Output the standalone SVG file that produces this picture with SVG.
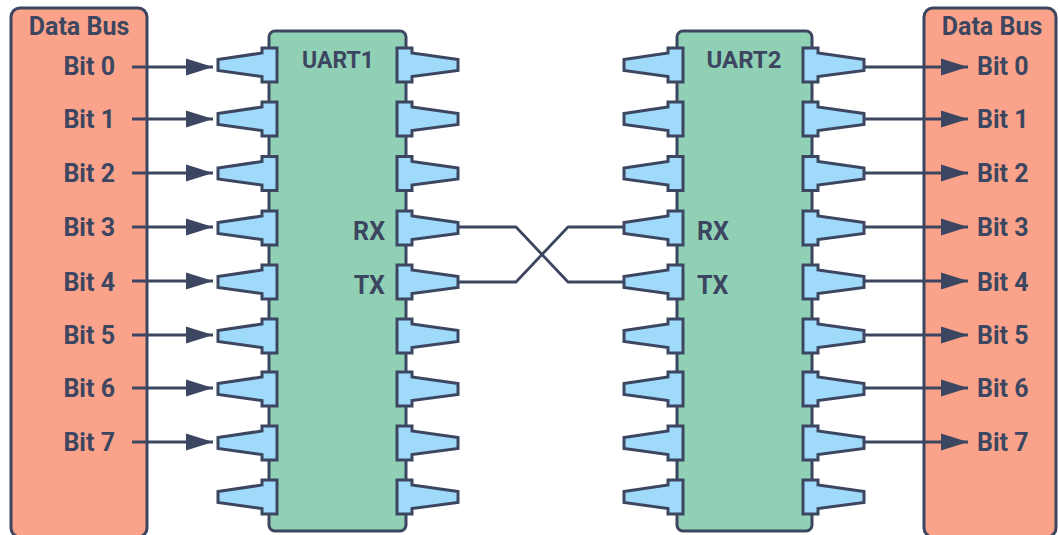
<svg xmlns="http://www.w3.org/2000/svg" width="1058" height="535" viewBox="0 0 1058 535">
<style>
.bus{fill:#fba38a;stroke:#3d4660;stroke-width:3}
.chip{fill:#90d1b5;stroke:#3d4660;stroke-width:3}
.pin{fill:#a0dafa;stroke:#3d4660;stroke-width:3;stroke-linejoin:miter}
.w{fill:none;stroke:#3d4660;stroke-width:2.8;stroke-linejoin:round}
text{font-family:Roboto,"Liberation Sans",sans-serif;font-weight:700;font-size:25px;fill:#3d4660}
.e{text-anchor:end}.s{text-anchor:start}.m{text-anchor:middle}
</style>
<defs>
<marker id="a" markerUnits="userSpaceOnUse" markerWidth="28" markerHeight="18" refX="27" refY="9" orient="auto"><path d="M0 0.5L27 9L0 17.5Z" fill="#3d4660"/></marker>
<path id="pl" class="pin" d="M218 -5.5L262 -12V-17H277V17H262V11.5L218 5.5Z"/>
<path id="pr" class="pin" d="M458 -5.5L412 -12V-17H397V17H412V11.5L458 5.5Z"/>
</defs>
<g id="bus-left"><rect class="bus" x="11" y="8" width="136" height="529" rx="9"/><text class="m" x="79" y="35">Data Bus</text>
<text class="e" x="115" y="75">Bit 0</text><text class="e" x="115" y="128">Bit 1</text><text class="e" x="115" y="182">Bit 2</text><text class="e" x="115" y="236">Bit 3</text><text class="e" x="115" y="291">Bit 4</text><text class="e" x="115" y="344">Bit 5</text><text class="e" x="115" y="397">Bit 6</text><text class="e" x="115" y="451">Bit 7</text></g>
<g id="bus-right"><rect class="bus" x="924" y="8" width="132" height="529" rx="9"/><text class="m" x="992" y="35">Data Bus</text>
<text class="s" x="977" y="75">Bit 0</text><text class="s" x="977" y="128">Bit 1</text><text class="s" x="977" y="182">Bit 2</text><text class="s" x="977" y="236">Bit 3</text><text class="s" x="977" y="291">Bit 4</text><text class="s" x="977" y="344">Bit 5</text><text class="s" x="977" y="397">Bit 6</text><text class="s" x="977" y="451">Bit 7</text></g>
<g id="uart1"><rect class="chip" x="269" y="31" width="137" height="500" rx="6"/>
<use href="#pl" y="65"/><use href="#pl" y="119"/><use href="#pl" y="173.5"/><use href="#pl" y="228"/><use href="#pl" y="282"/><use href="#pl" y="336"/><use href="#pl" y="389"/><use href="#pl" y="443"/><use href="#pl" y="497"/>
<use href="#pr" y="65"/><use href="#pr" y="119"/><use href="#pr" y="173.5"/><use href="#pr" y="228"/><use href="#pr" y="282"/><use href="#pr" y="336"/><use href="#pr" y="389"/><use href="#pr" y="443"/><use href="#pr" y="497"/>
<text class="m" x="338" y="68" style="font-size:23px">UART1</text><text class="e" x="385" y="240">RX</text><text class="e" x="385" y="294">TX</text></g>
<g id="uart2"><rect class="chip" x="677" y="31" width="135" height="500" rx="6"/>
<use href="#pl" x="406" y="65"/><use href="#pl" x="406" y="119"/><use href="#pl" x="406" y="173.5"/><use href="#pl" x="406" y="228"/><use href="#pl" x="406" y="282"/><use href="#pl" x="406" y="336"/><use href="#pl" x="406" y="389"/><use href="#pl" x="406" y="443"/><use href="#pl" x="406" y="497"/>
<use href="#pr" x="406" y="65"/><use href="#pr" x="406" y="119"/><use href="#pr" x="406" y="173.5"/><use href="#pr" x="406" y="228"/><use href="#pr" x="406" y="282"/><use href="#pr" x="406" y="336"/><use href="#pr" x="406" y="389"/><use href="#pr" x="406" y="443"/><use href="#pr" x="406" y="497"/>
<text class="m" x="744" y="68" style="font-size:24px">UART2</text><text class="s" x="697" y="240">RX</text><text class="s" x="697" y="294">TX</text></g>
<g id="connectors">
<path class="w" marker-end="url(#a)" d="M132 67H213"/><path class="w" marker-end="url(#a)" d="M132 119H213"/><path class="w" marker-end="url(#a)" d="M132 173H213"/><path class="w" marker-end="url(#a)" d="M132 227H213"/><path class="w" marker-end="url(#a)" d="M132 281H213"/><path class="w" marker-end="url(#a)" d="M132 335H213"/><path class="w" marker-end="url(#a)" d="M132 388H213"/><path class="w" marker-end="url(#a)" d="M132 442H213"/>
<path class="w" marker-end="url(#a)" d="M863 67H968"/><path class="w" marker-end="url(#a)" d="M863 119H968"/><path class="w" marker-end="url(#a)" d="M863 173H968"/><path class="w" marker-end="url(#a)" d="M863 227H968"/><path class="w" marker-end="url(#a)" d="M863 281H968"/><path class="w" marker-end="url(#a)" d="M863 335H968"/><path class="w" marker-end="url(#a)" d="M863 388H968"/><path class="w" marker-end="url(#a)" d="M863 442H968"/>
<path class="w" d="M458 227H516L568 282H624"/><path class="w" d="M458 282H516L568 227H624"/>
</g>
</svg>
